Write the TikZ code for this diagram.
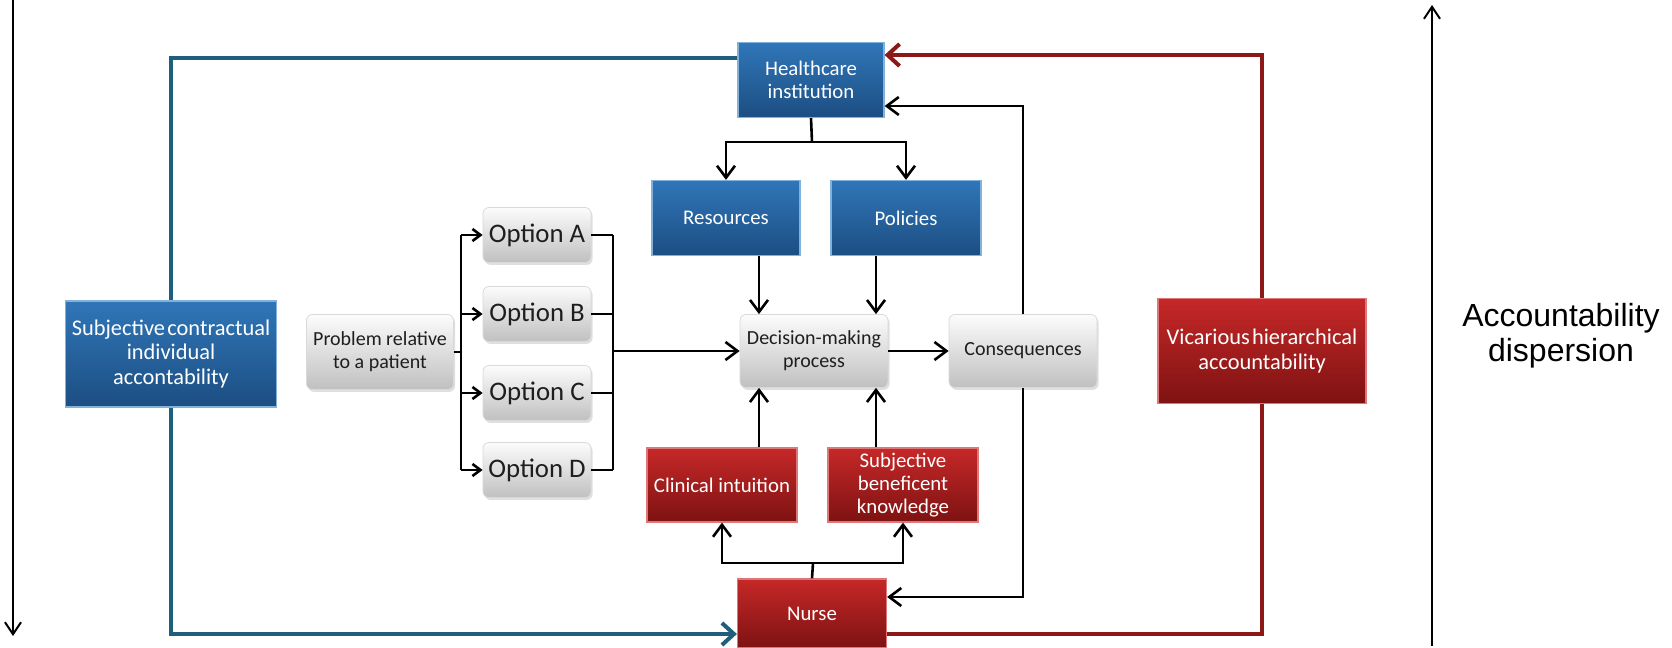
\documentclass[tikz,border=0pt]{standalone}
\usepackage{fontspec}
\setmainfont{Carlito}
\newfontfamily\arialf{Liberation Sans}
\usetikzlibrary{arrows.meta,shadows}
\definecolor{bluetop}{RGB}{48,118,184}
\definecolor{bluebot}{RGB}{28,78,130}
\definecolor{blueedge}{RGB}{130,178,220}
\definecolor{redtop}{RGB}{198,40,40}
\definecolor{redbot}{RGB}{126,18,18}
\definecolor{rededge}{RGB}{222,120,120}
\definecolor{graytop}{RGB}{252,252,252}
\definecolor{graybot}{RGB}{192,192,192}
\definecolor{loopblue}{RGB}{30,96,124}
\definecolor{loopred}{RGB}{140,24,24}
\definecolor{txtgray}{RGB}{30,30,30}
\begin{document}
\begin{tikzpicture}[x=0.5pt,y=-0.5pt,
 box/.style={rectangle, inner sep=0pt, align=center, text=white, font=\fontsize{10.4}{11.6}\selectfont},
 bluebox/.style={box, top color=bluetop, bottom color=bluebot, draw=blueedge, line width=0.6pt},
 redbox/.style={box, top color=redtop, bottom color=redbot, draw=rededge, line width=0.6pt},
 graybox/.style={rectangle, rounded corners=3pt, inner sep=0pt, align=center, text=txtgray,
   top color=graytop, bottom color=graybot, draw=black!15, line width=0.4pt,
   drop shadow={opacity=0.25,shadow xshift=0.8pt,shadow yshift=-1.2pt},
   font=\fontsize{10}{11.5}\selectfont},
 optbox/.style={graybox, minimum width=54pt, minimum height=27.5pt, font=\fontsize{13.4}{15}\selectfont},
 conn/.style={line width=1.3pt, black},
 arr/.style={conn, -{Straight Barb[length=6pt,width=9pt,line width=1.3pt]}},
 sarr/.style={conn, -{Straight Barb[length=4pt,width=6pt,line width=1.3pt]}},
 loopb/.style={line width=2pt, loopblue},
 loopr/.style={line width=2pt, loopred},
 bigtip/.style={-{Straight Barb[length=6pt,width=11pt,line width=2pt]}},
 axis/.style={line width=1pt, black, -{Straight Barb[length=6pt,width=8pt,line width=1pt]}},
]
\useasboundingbox (0,0) rectangle (1672,648);
\fill[white] (0,0) rectangle (1672,648);

% nodes
\node[bluebox, minimum width=73pt, minimum height=37.5pt] (hc) at (811,80) {Healthcare\\institution};
\node[bluebox, minimum width=74pt, minimum height=37.5pt] (res) at (726,218) {Resources};
\node[bluebox, minimum width=75pt, minimum height=37.5pt] (pol) at (906,218) {Policies};
\node[bluebox, minimum width=105.5pt, minimum height=53pt, font=\fontsize{11.2}{12.2}\selectfont] (subj) at (171,354) {Subjective\hspace{0.1em}contractual\\individual\\accontability};
\node[graybox, minimum width=73.5pt, minimum height=37.5pt] (prob) at (380,352) {Problem relative\\to a patient};
\node[optbox] (oA) at (537,235) {Option A};
\node[optbox] (oB) at (537,314) {Option B};
\node[optbox] (oC) at (537,393) {Option C};
\node[optbox] (oD) at (537,470) {Option D};
\node[graybox, minimum width=74pt, minimum height=36.5pt] (dec) at (814,351) {Decision-making\\process};
\node[graybox, minimum width=74pt, minimum height=36.5pt] (cons) at (1023,351) {Consequences};
\node[redbox, minimum width=75pt, minimum height=37pt] (clin) at (722,485) {Clinical intuition};
\node[redbox, minimum width=75pt, minimum height=37pt] (ben) at (903,485) {Subjective\\beneficent\\knowledge};
\node[redbox, minimum width=74.5pt, minimum height=34.5pt] (nurse) at (812,613.5) {Nurse};
\node[redbox, minimum width=104pt, minimum height=52.5pt, font=\fontsize{11.2}{12.2}\selectfont] (vic) at (1262,351) {Vicarious\hspace{0.1em}hierarchical\\accountability};
\node[font=\arialf\fontsize{16}{17.5}\selectfont, align=center, inner sep=0pt] (ad) at (1561,336) {Accountability\\dispersion};

% helper coordinates
\coordinate (bt) at (0,58);
\coordinate (bb) at (0,634);
\coordinate (rt) at (0,55);
\coordinate (ct) at (0,106);
\coordinate (cb) at (0,597);
\coordinate (hb) at (812,142);
\coordinate (nb) at (813,563);
\coordinate (lb) at (461,0);
\coordinate (rb) at (613,0);
\coordinate (xl) at (759,0);
\coordinate (xr) at (876,0);
\coordinate (la1) at (13,0);
\coordinate (la2) at (13,636);
\coordinate (ra1) at (1432,646);
\coordinate (ra2) at (1432,5);

% axes
\draw[axis] (la1) -- (la2);
\draw[axis] (ra1) -- (ra2);

% loops
\draw[loopb] (hc.west |- bt) -| (subj.north);
\draw[loopb, bigtip] (subj.south) |- (nurse.west |- bb);
\draw[loopr] (nurse.east |- bb) -| (vic.south);
\draw[loopr, bigtip] (vic.north) |- (hc.east |- rt);

% black connectors
\draw[conn] (hc.south) -- (hb);
\draw[arr] (hb) -| (res.north);
\draw[arr] (hb) -| (pol.north);
\draw[arr] (res.south -| xl) -- (dec.north -| xl);
\draw[arr] (pol.south -| xr) -- (dec.north -| xr);
\draw[arr] (clin.north -| xl) -- (dec.south -| xl);
\draw[arr] (ben.north -| xr) -- (dec.south -| xr);
\draw[conn] (nurse.north) -- (nb);
\draw[arr] (nb) -| (clin.south);
\draw[arr] (nb) -| (ben.south);
\draw[arr] (dec.east) -- (cons.west);
\draw[arr] (cons.north) |- (hc.east |- ct);
\draw[arr] (cons.south) |- (nurse.east |- cb);
\draw[conn] (prob.east) -- (lb |- prob.east);
\draw[conn] (lb |- oA.west) -- (lb |- oD.west);
\foreach \o in {oA,oB,oC,oD} {
  \draw[sarr] (lb |- \o.west) -- (\o.west);
  \draw[conn] (\o.east) -- (rb |- \o.east);
}
\draw[conn] (rb |- oA.east) -- (rb |- oD.east);
\draw[arr] (rb |- dec.west) -- (dec.west);
\end{tikzpicture}
\end{document}
